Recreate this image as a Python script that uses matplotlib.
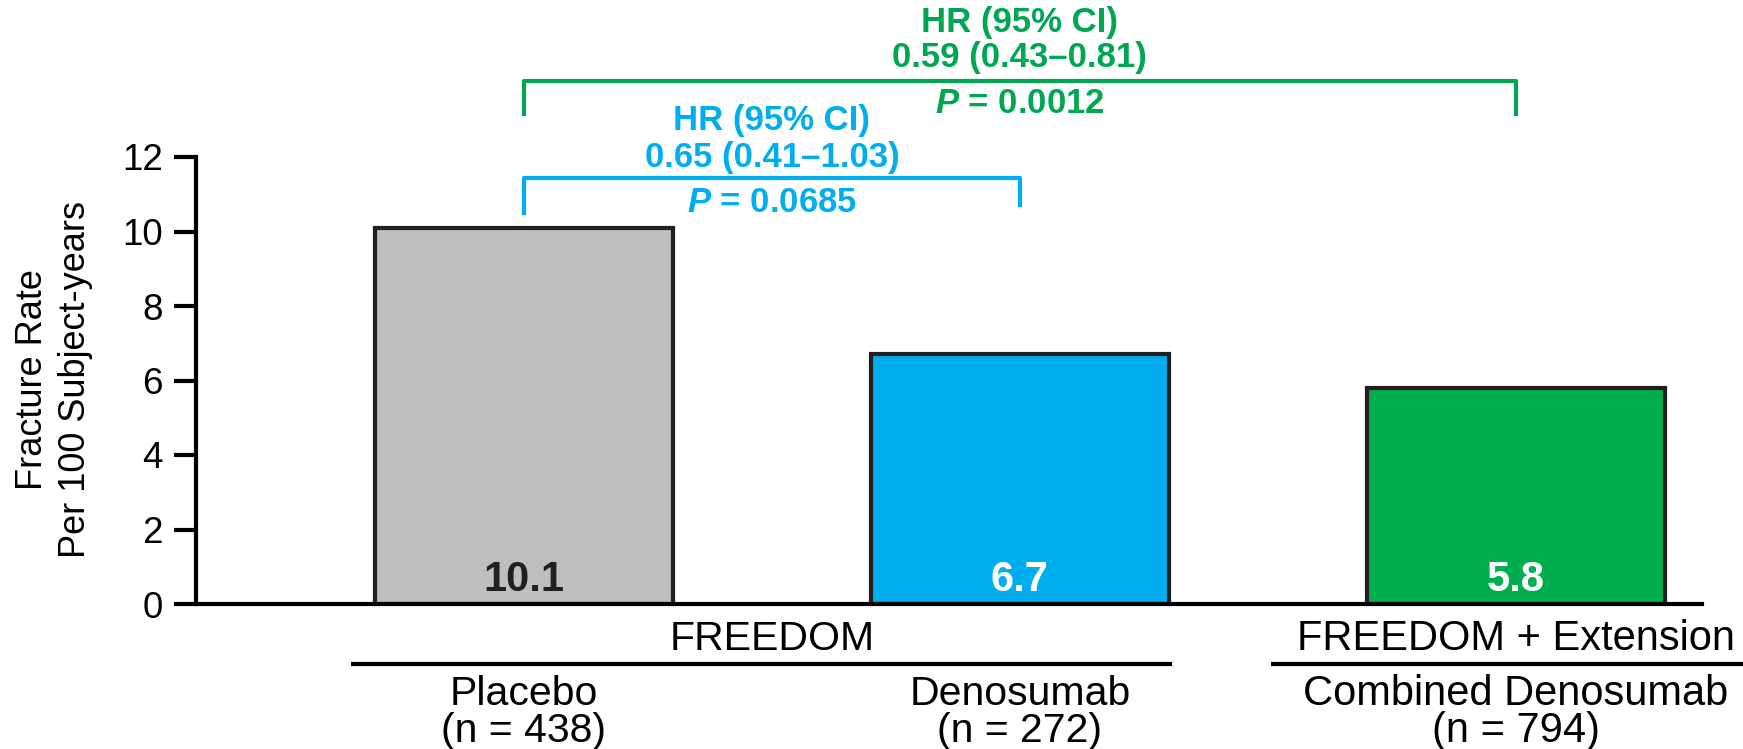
import matplotlib
matplotlib.use('Agg')
import matplotlib.pyplot as plt

plt.rcParams['font.family'] = ['Liberation Sans', 'DejaVu Sans']
plt.rcParams['mathtext.fontset'] = 'custom'
plt.rcParams['mathtext.it'] = 'Liberation Sans:italic:bold'
plt.rcParams['mathtext.rm'] = 'Liberation Sans:bold'

# data
groups = ['Placebo', 'Denosumab', 'Combined Denosumab']
n_values = [438, 272, 794]
rates = [10.1, 6.7, 5.8]
rate_labels = ['10.1', '6.7', '5.8']
bar_colors = ['#bcbec0', '#00aeef', '#00ae4f']
label_colors = ['#231f20', 'white', 'white']
blue_hr = ['HR (95% CI)', '0.65 (0.41\u20131.03)', '0.0685']
green_hr = ['HR (95% CI)', '0.59 (0.43\u20130.81)', '0.0012']
blue_c = '#00aeef'
green_c = '#00a651'

fig = plt.figure(figsize=(17.43, 7.49), dpi=100)
ax = fig.add_axes([196 / 1743, 1 - 604 / 749, (1702 - 196) / 1743, (604 - 157) / 749])

x = list(range(len(groups)))
ax.bar(x, rates, width=0.6, color=bar_colors, edgecolor='#231f20', linewidth=3, zorder=2)

for xi, lab, c in zip(x, rate_labels, label_colors):
    ax.text(xi, 0.36, lab, ha='center', va='baseline', fontsize=30,
            fontweight='bold', color=c, zorder=3)

ax.set_xlim(-0.661, 2.375)
ax.set_ylim(0, 12)
ax.set_yticks(range(0, 13, 2))
ax.set_xticks([])
ax.tick_params(axis='y', labelsize=26.5, width=3, length=16, pad=8)
for s in ['top', 'right']:
    ax.spines[s].set_visible(False)
for s in ['left', 'bottom']:
    ax.spines[s].set_linewidth(3)

fig.text(54 / 1743, 1 - 380 / 749, 'Fracture Rate\nPer 100 Subject-years', rotation=90,
         ha='center', va='center', multialignment='center', fontsize=26, linespacing=1.32)

# brackets
ax.plot([0, 0, 1, 1], [10.5, 11.44, 11.44, 10.7], color=blue_c, lw=3, clip_on=False)
ax.plot([0, 0, 2, 2], [13.15, 14.04, 14.04, 13.15], color=green_c, lw=3, clip_on=False)

ax.text(0.5, 12.72, blue_hr[0], ha='center', va='baseline', fontsize=25, fontweight='bold', color=blue_c)
ax.text(0.5, 11.73, blue_hr[1], ha='center', va='baseline', fontsize=25, fontweight='bold', color=blue_c)
ax.text(0.5, 10.52, '$P$ = ' + blue_hr[2], ha='center', va='baseline', fontsize=25, fontweight='bold', color=blue_c)
ax.text(1.0, 15.36, green_hr[0], ha='center', va='baseline', fontsize=25, fontweight='bold', color=green_c)
ax.text(1.0, 14.42, green_hr[1], ha='center', va='baseline', fontsize=25, fontweight='bold', color=green_c)
ax.text(1.0, 13.18, '$P$ = ' + green_hr[2], ha='center', va='baseline', fontsize=25, fontweight='bold', color=green_c)

# group labels below axis
ax.text(0.5, -1.235, 'FREEDOM', ha='center', va='baseline', fontsize=29.5)
ax.text(2, -1.235, 'FREEDOM + Extension', ha='center', va='baseline', fontsize=30)
ax.plot([-0.345, 1.302], [-1.61, -1.61], color='black', lw=3, clip_on=False)
ax.plot([1.51, 2.47], [-1.61, -1.61], color='black', lw=3, clip_on=False)

for xi, g, n in zip(x, groups, n_values):
    fs = 30 if xi == 2 else 29.5
    ax.text(xi, -2.7, g, ha='center', va='baseline', fontsize=fs)
    ax.text(xi, -3.7, f'(n = {n})', ha='center', va='baseline', fontsize=fs)

fig.savefig('out.png', dpi=100)
